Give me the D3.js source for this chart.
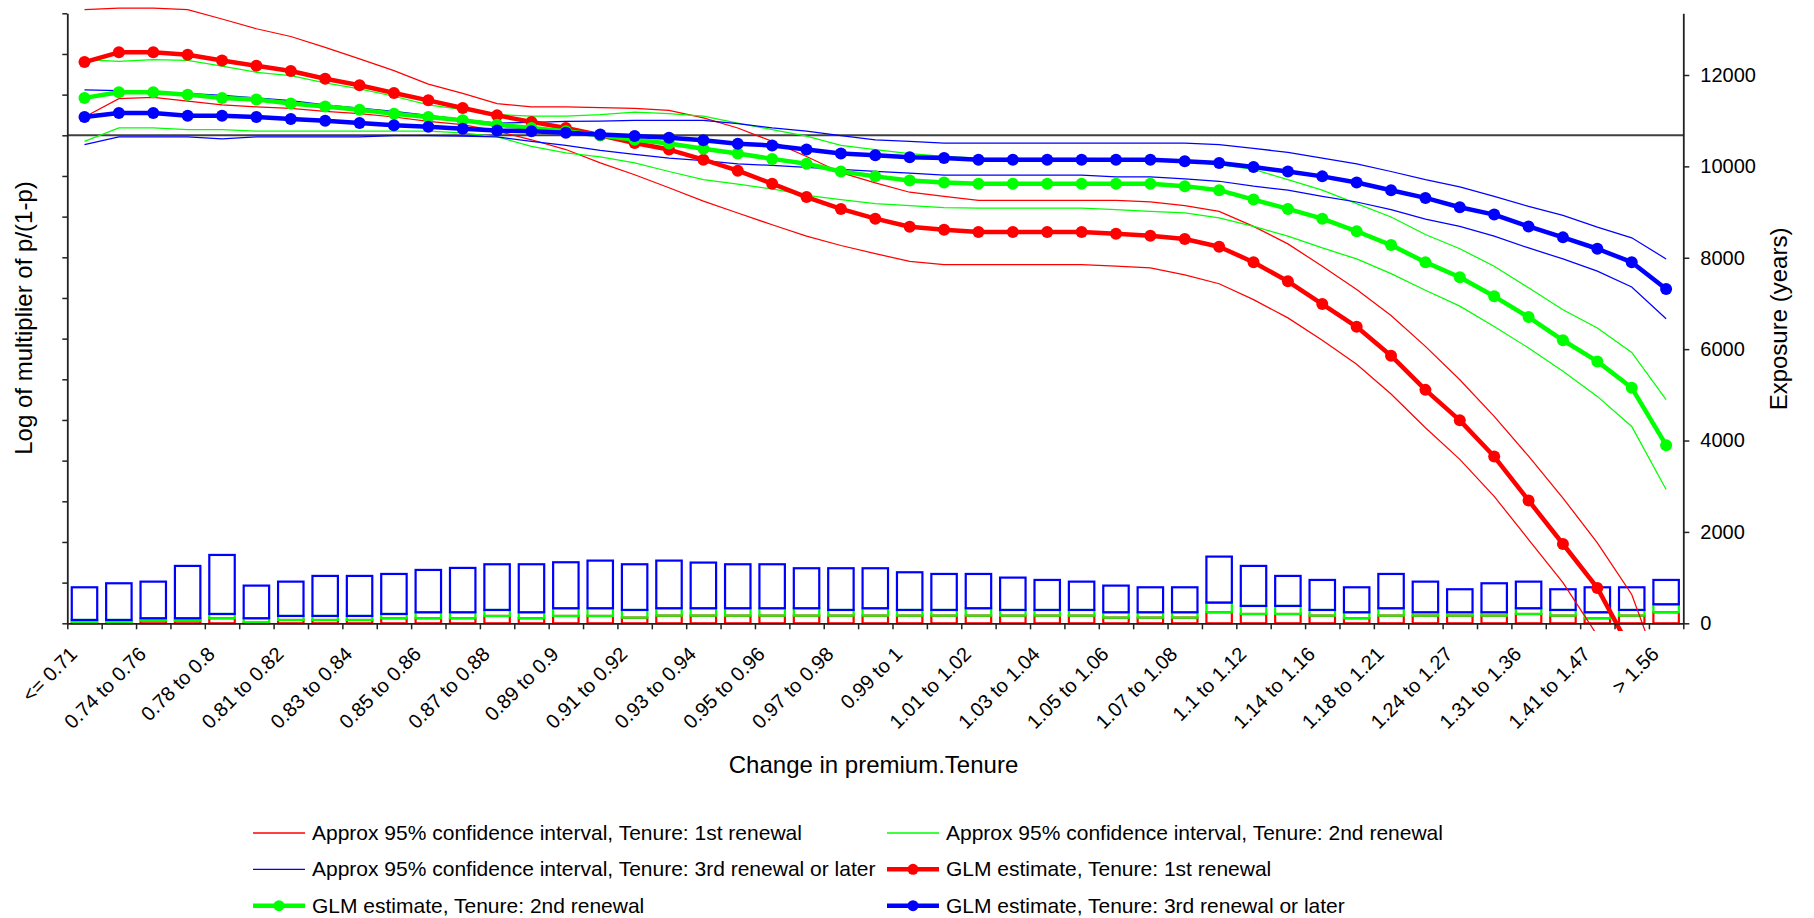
<!DOCTYPE html>
<html><head><meta charset="utf-8">
<script src="https://cdn.jsdelivr.net/npm/d3@7"></script>
<style>
body{margin:0;background:#fff}
text{font-family:"Liberation Sans",Arial,sans-serif;fill:#000}
</style>
</head><body>
<svg id="c" width="1814" height="918"></svg>
<script>
const categories = ["<= 0.71","0.71 to 0.74","0.74 to 0.76","0.76 to 0.78","0.78 to 0.8","0.8 to 0.81","0.81 to 0.82","0.82 to 0.83","0.83 to 0.84","0.84 to 0.85","0.85 to 0.86","0.86 to 0.87","0.87 to 0.88","0.88 to 0.89","0.89 to 0.9","0.9 to 0.91","0.91 to 0.92","0.92 to 0.93","0.93 to 0.94","0.94 to 0.95","0.95 to 0.96","0.96 to 0.97","0.97 to 0.98","0.98 to 0.99","0.99 to 1","1 to 1.01","1.01 to 1.02","1.02 to 1.03","1.03 to 1.04","1.04 to 1.05","1.05 to 1.06","1.06 to 1.07","1.07 to 1.08","1.08 to 1.1","1.1 to 1.12","1.12 to 1.14","1.14 to 1.16","1.16 to 1.18","1.18 to 1.21","1.21 to 1.24","1.24 to 1.27","1.27 to 1.31","1.31 to 1.36","1.36 to 1.41","1.41 to 1.47","1.47 to 1.56","> 1.56"];

// GLM estimates (log of multiplier)
const glm1st = [0.180,0.204,0.204,0.198,0.184,0.171,0.158,0.139,0.123,0.104,0.086,0.067,0.049,0.033,0.018,0.000,-0.019,-0.035,-0.060,-0.087,-0.119,-0.152,-0.181,-0.205,-0.225,-0.232,-0.238,-0.238,-0.238,-0.238,-0.242,-0.247,-0.255,-0.274,-0.312,-0.359,-0.415,-0.471,-0.542,-0.626,-0.701,-0.790,-0.898,-1.005,-1.113,-1.270,-1.480];
const glm2nd = [0.092,0.106,0.106,0.100,0.092,0.088,0.078,0.071,0.063,0.053,0.045,0.037,0.026,0.018,0.010,0.000,-0.011,-0.020,-0.033,-0.045,-0.058,-0.070,-0.089,-0.101,-0.111,-0.116,-0.119,-0.119,-0.119,-0.119,-0.119,-0.119,-0.125,-0.135,-0.158,-0.181,-0.205,-0.236,-0.270,-0.312,-0.349,-0.396,-0.447,-0.504,-0.556,-0.621,-0.762];
const glm3rd = [0.045,0.055,0.055,0.048,0.048,0.045,0.040,0.036,0.030,0.025,0.021,0.016,0.012,0.010,0.006,0.002,-0.002,-0.006,-0.012,-0.021,-0.025,-0.035,-0.045,-0.049,-0.054,-0.056,-0.060,-0.060,-0.060,-0.060,-0.060,-0.060,-0.064,-0.068,-0.078,-0.089,-0.101,-0.116,-0.135,-0.154,-0.177,-0.195,-0.224,-0.251,-0.279,-0.312,-0.378];

// Approx 95% confidence intervals
const ci1stUpper = [0.309,0.313,0.313,0.309,0.286,0.262,0.243,0.216,0.188,0.159,0.126,0.103,0.078,0.070,0.070,0.068,0.066,0.061,0.043,0.018,-0.015,-0.052,-0.092,-0.117,-0.140,-0.150,-0.160,-0.160,-0.160,-0.160,-0.160,-0.164,-0.173,-0.187,-0.224,-0.267,-0.322,-0.379,-0.443,-0.519,-0.601,-0.691,-0.789,-0.892,-1.002,-1.129,-1.360];
const ci1stLower = [0.045,0.090,0.093,0.084,0.075,0.070,0.066,0.059,0.053,0.045,0.034,0.026,0.010,-0.011,-0.035,-0.068,-0.097,-0.129,-0.162,-0.191,-0.220,-0.248,-0.271,-0.291,-0.310,-0.318,-0.318,-0.318,-0.318,-0.318,-0.322,-0.326,-0.343,-0.365,-0.404,-0.449,-0.504,-0.563,-0.636,-0.719,-0.797,-0.888,-0.994,-1.100,-1.230,-1.400,-1.600];
const ci2ndUpper = [0.186,0.182,0.186,0.184,0.170,0.155,0.147,0.129,0.114,0.096,0.075,0.063,0.051,0.047,0.047,0.051,0.057,0.053,0.047,0.030,0.014,-0.002,-0.025,-0.035,-0.045,-0.052,-0.056,-0.057,-0.057,-0.057,-0.058,-0.060,-0.065,-0.072,-0.084,-0.109,-0.135,-0.168,-0.201,-0.244,-0.279,-0.322,-0.375,-0.429,-0.474,-0.534,-0.650];
const ci2ndLower = [-0.015,0.018,0.018,0.014,0.014,0.010,0.010,0.010,0.010,0.010,0.010,0.006,-0.004,-0.027,-0.043,-0.053,-0.068,-0.089,-0.109,-0.120,-0.132,-0.148,-0.158,-0.168,-0.173,-0.178,-0.179,-0.179,-0.179,-0.179,-0.183,-0.187,-0.191,-0.203,-0.224,-0.248,-0.277,-0.304,-0.340,-0.381,-0.420,-0.470,-0.523,-0.580,-0.642,-0.716,-0.871];
const ci3rdUpper = [0.112,0.110,0.107,0.103,0.098,0.092,0.085,0.075,0.067,0.059,0.049,0.039,0.030,0.032,0.034,0.035,0.037,0.037,0.037,0.029,0.018,0.010,-0.001,-0.011,-0.015,-0.019,-0.019,-0.019,-0.019,-0.019,-0.019,-0.019,-0.019,-0.023,-0.032,-0.042,-0.056,-0.070,-0.089,-0.109,-0.127,-0.150,-0.175,-0.197,-0.226,-0.252,-0.304];
const ci3rdLower = [-0.023,-0.004,-0.004,-0.004,-0.009,-0.004,-0.004,-0.004,-0.004,-0.001,-0.001,-0.002,-0.004,-0.015,-0.025,-0.037,-0.047,-0.056,-0.062,-0.070,-0.074,-0.079,-0.084,-0.089,-0.093,-0.098,-0.098,-0.098,-0.098,-0.098,-0.102,-0.102,-0.107,-0.113,-0.125,-0.135,-0.150,-0.164,-0.183,-0.206,-0.224,-0.248,-0.277,-0.304,-0.334,-0.373,-0.451];

// Exposure (years) by tenure, stacked
const exposure1st = [15,15,58,58,110,15,73,73,73,110,110,110,161,110,161,161,124,168,168,168,168,168,168,168,168,168,168,168,168,168,124,124,124,241,204,204,168,110,168,168,168,168,204,168,110,168,241];
const exposure2nd = [58,58,52,52,94,95,88,88,88,94,131,131,131,131,168,168,168,161,161,161,161,161,124,161,124,124,161,124,124,124,117,117,117,212,176,176,124,131,161,73,73,73,125,124,131,124,175];
const exposure3rd = [715,803,802,1146,1292,715,751,876,876,876,927,971,1000,1051,1007,1043,1000,1043,1000,963,963,876,913,876,825,788,751,708,657,620,584,547,547,1007,876,657,657,547,751,671,504,635,583,453,547,496,533];

const leftTicks = d3.range(-12, 4).map(v => v / 10);
const rightTicks = [0,2000,4000,6000,8000,10000,12000];

const W = 1814, H = 918;
const L = 67.3, R = 1683.3, T = 13.3, B = 623.3;
const svg = d3.select('#c');
svg.append('rect').attr('width', W).attr('height', H).attr('fill', '#fff');

const x = d3.scaleBand().domain(categories).range([L, R]).paddingInner(0.26).paddingOuter(0.13);
const xIdx = d3.scaleLinear().domain([0, categories.length]).range([L, R]);
const cx = c => x(c) + x.bandwidth() / 2;
const yL = d3.scaleLinear().domain([-1.2, 0.3]).range([B, T]);
const yR = d3.scaleLinear().domain([0, 13350]).range([B, T]);

svg.append('clipPath').attr('id', 'clip').append('rect').attr('x', 0).attr('y', 0).attr('width', W).attr('height', 631);

// exposure bars (stacked outlines)
const rows = categories.map((c, i) => ({cat: c, r: exposure1st[i], g: exposure2nd[i], b: exposure3rd[i]}));
const stack = d3.stack().keys(['r', 'g', 'b'])(rows);
const barColors = {r: '#ff0000', g: '#00ff00', b: '#0000ff'};
const barG = svg.append('g');
stack.forEach(layer => {
  barG.append('g').selectAll('rect').data(layer).join('rect')
    .attr('x', d => x(d.data.cat))
    .attr('width', x.bandwidth())
    .attr('y', d => yR(d[1]))
    .attr('height', d => yR(d[0]) - yR(d[1]))
    .attr('fill', 'none')
    .attr('stroke', barColors[layer.key])
    .attr('stroke-width', 2.2);
});

// zero line (primary category axis)
svg.append('line').attr('x1', L).attr('x2', R).attr('y1', yL(0)).attr('y2', yL(0))
  .attr('stroke', '#404040').attr('stroke-width', 2);

// series
const line = d3.line().x((d, i) => cx(categories[i])).y(d => yL(d));
const seriesG = svg.append('g').attr('clip-path', 'url(#clip)');
const thin = [[ci1stUpper, '#ff0000'], [ci1stLower, '#ff0000'], [ci2ndUpper, '#00ff00'], [ci2ndLower, '#00ff00'], [ci3rdUpper, '#0000ff'], [ci3rdLower, '#0000ff']];
thin.forEach(([arr, col]) => {
  seriesG.append('path').attr('d', line(arr)).attr('fill', 'none').attr('stroke', col).attr('stroke-width', 1.25);
});
const thick = [[glm1st, '#ff0000'], [glm2nd, '#00ff00'], [glm3rd, '#0000ff']];
thick.forEach(([arr, col]) => {
  const g = seriesG.append('g');
  g.append('path').attr('d', line(arr)).attr('fill', 'none').attr('stroke', col).attr('stroke-width', 4.5).attr('stroke-linejoin', 'round');
  g.selectAll('circle').data(arr).join('circle')
    .attr('cx', (d, i) => cx(categories[i])).attr('cy', d => yL(d)).attr('r', 6).attr('fill', col)
    .attr('display', d => yL(d) > B + 4 ? 'none' : null);
});

// axes
const axL = svg.append('g').attr('transform', `translate(${L},0)`)
  .call(d3.axisLeft(yL).tickValues(leftTicks).tickFormat('').tickSize(5).tickSizeOuter(0));
const axR = svg.append('g').attr('transform', `translate(${R},0)`)
  .call(d3.axisRight(yR).tickValues(rightTicks).tickSize(6).tickSizeOuter(0).tickPadding(11).tickFormat(d3.format('d')));
const axB = svg.append('g').attr('transform', `translate(0,${B})`)
  .call(d3.axisBottom(xIdx).tickValues(d3.range(categories.length + 1)).tickFormat('').tickSize(6).tickSizeOuter(0));
const axLab = svg.append('g').attr('transform', `translate(0,${B})`)
  .call(d3.axisBottom(x).tickSize(0).tickFormat((d, i) => i % 2 === 0 ? d : ''));
axLab.select('.domain').remove();
axLab.selectAll('text')
  .attr('x', 0).attr('y', 0).attr('dy', 0)
  .attr('text-anchor', 'end')
  .attr('transform', 'translate(-6,32) rotate(-45)')
  .style('font-size', '20px');
[axL, axR, axB].forEach(a => {
  a.selectAll('.domain').attr('stroke', '#222').attr('stroke-width', 1.8);
  a.selectAll('.tick line').attr('stroke', '#222').attr('stroke-width', 1.5);
});
axR.selectAll('text').style('font-size', '20px');
svg.selectAll('.tick text').attr('font-family', null);

// titles
svg.append('text').attr('x', 873.5).attr('y', 773).attr('text-anchor', 'middle').style('font-size', '24px').text('Change in premium.Tenure');
svg.append('text').attr('transform', 'translate(32,318) rotate(-90)').attr('text-anchor', 'middle').style('font-size', '24px').text('Log of multiplier of p/(1-p)');
svg.append('text').attr('transform', 'translate(1787,319) rotate(-90)').attr('text-anchor', 'middle').style('font-size', '24px').text('Exposure (years)');

// legend
const legendItems = [
  {label: 'Approx 95% confidence interval, Tenure: 1st renewal', color: '#ff0000', glm: false},
  {label: 'Approx 95% confidence interval, Tenure: 2nd renewal', color: '#00ff00', glm: false},
  {label: 'Approx 95% confidence interval, Tenure: 3rd renewal or later', color: '#0000ff', glm: false},
  {label: 'GLM estimate, Tenure: 1st renewal', color: '#ff0000', glm: true},
  {label: 'GLM estimate, Tenure: 2nd renewal', color: '#00ff00', glm: true},
  {label: 'GLM estimate, Tenure: 3rd renewal or later', color: '#0000ff', glm: true}
];
const colX = [253, 887], rowY = [833, 869.3, 905.7];
const lg = svg.append('g');
legendItems.forEach((it, i) => {
  const x0 = colX[i % 2], y0 = rowY[Math.floor(i / 2)];
  const g = lg.append('g');
  g.append('line').attr('x1', x0).attr('x2', x0 + 52).attr('y1', y0).attr('y2', y0)
    .attr('stroke', it.color).attr('stroke-width', it.glm ? 4.5 : 1.3);
  if (it.glm) g.append('circle').attr('cx', x0 + 26).attr('cy', y0).attr('r', 5.5).attr('fill', it.color);
  g.append('text').attr('x', x0 + 59).attr('y', y0 + 7).style('font-size', '21px').text(it.label);
});
</script>
</body></html>
